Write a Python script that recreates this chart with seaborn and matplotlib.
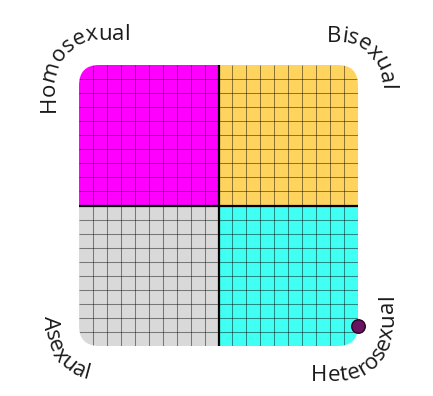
import numpy as np
import matplotlib
matplotlib.use("Agg")
import matplotlib.pyplot as plt
from matplotlib.patches import FancyBboxPatch, Rectangle
from matplotlib.font_manager import FontProperties, findfont
from matplotlib.ft2font import FT2Font
import seaborn as sns

# Quadrant layout and the single plotted response
quadrant_names = ["Homosexual", "Bisexual", "Asexual", "Heterosexual"]
quadrant_colors = ["#ff00ff", "#ffd45e", "#d9d9d9", "#40fff3"]
point_x = [10.0]
point_y = [-8.6]
grid_ticks = list(range(-9, 10))

sns.set_theme(style="white")
plt.rcParams["font.family"] = ["Open Sans", "DejaVu Sans"]

W, H, DPI = 433, 396, 100
fig = plt.figure(figsize=(W / DPI, H / DPI), dpi=DPI)
fig.patch.set_facecolor("white")

ax = fig.add_axes([79 / W, 50 / H, 279 / W, 281 / H])
ax.set_xlim(-10, 10)
ax.set_ylim(-10, 10)
ax.set_axis_off()

# rounded outline used to clip every layer of the chart
frame = FancyBboxPatch((-10, -10), 20, 20,
                       boxstyle="round,pad=0,rounding_size=1.45",
                       transform=ax.transData, facecolor="none",
                       edgecolor="none")
ax.add_patch(frame)

origins = [(-10, 0), (0, 0), (-10, -10), (0, -10)]
for (x0, y0), col in zip(origins, quadrant_colors):
    r = Rectangle((x0, y0), 10, 10, facecolor=col, edgecolor="none", zorder=1)
    ax.add_patch(r)
    r.set_clip_path(frame)

gv = ax.vlines(grid_ticks, -10, 10, colors="black", alpha=0.45,
               linewidth=0.75, zorder=2)
gh = ax.hlines(grid_ticks, -10, 10, colors="black", alpha=0.45,
               linewidth=0.75, zorder=2)
gv.set_clip_path(frame)
gh.set_clip_path(frame)

ax.vlines([0], -10, 10, colors="black", linewidth=1.6, zorder=3)
ax.hlines([0], -10, 10, colors="black", linewidth=1.6, zorder=3)

sns.scatterplot(x=point_x, y=point_y, s=95, color="#6b1263",
                edgecolor="#24041f", linewidth=1.0, ax=ax, zorder=5,
                clip_on=False, legend=False)

# overlay in pixel units (y up) for the labels that wrap round the corners
ov = fig.add_axes([0, 0, 1, 1], zorder=10)
ov.set_xlim(0, W)
ov.set_ylim(0, H)
ov.set_axis_off()
ov.patch.set_alpha(0)

fp = FontProperties(family=["Open Sans", "DejaVu Sans"], size=16,
                    weight="medium")
ft = FT2Font(findfont(fp))
ft.set_size(fp.get_size_in_points(), DPI)


def advance(ch_):
    g = ft.load_char(ord(ch_))
    return g.linearHoriAdvance / 65536.0


def corner_path(s, cx, cy, radius, phi0, clockwise):
    """Point and tangent angle at length s along straight-arc-straight path."""
    sign = -1 if clockwise else 1
    quarter = radius * np.pi / 2
    t = min(max(s, 0.0), quarter)
    phi = np.radians(phi0 + sign * np.degrees(t / radius))
    px = cx + radius * np.cos(phi)
    py = cy + radius * np.sin(phi)
    tx, ty = (np.sin(phi), -np.cos(phi)) if clockwise else (-np.sin(phi), np.cos(phi))
    extra = s - t
    return px + tx * extra, py + ty * extra, np.degrees(np.arctan2(ty, tx))


def corner_label(text, cx, cy_img, radius, phi0, clockwise, s_first, s_last):
    cy = H - cy_img
    adv = [advance(c) for c in text]
    centers = np.cumsum(adv) - np.array(adv) / 2
    k = (s_last - s_first) / (centers[-1] - centers[0])
    for ch_, c in zip(text, centers):
        s = s_first + (c - centers[0]) * k
        px, py, rot = corner_path(s, cx, cy, radius, phi0, clockwise)
        ov.text(px, py, ch_, fontproperties=fp, color="#1a1a1a",
                ha="center", va="baseline", rotation=rot,
                rotation_mode="anchor")


corner_label(quadrant_names[0], 99.5, 85, 45, 180, True, -19, 98)
corner_label(quadrant_names[1], 338, 85, 43, 90, True, -4, 69)
corner_label(quadrant_names[2], 99.5, 326, 55, 180, False, -3, 72)
corner_label(quadrant_names[3], 338, 326, 55, -90, False, -19, 115)

fig.savefig("out.png", dpi=DPI, facecolor="white")
